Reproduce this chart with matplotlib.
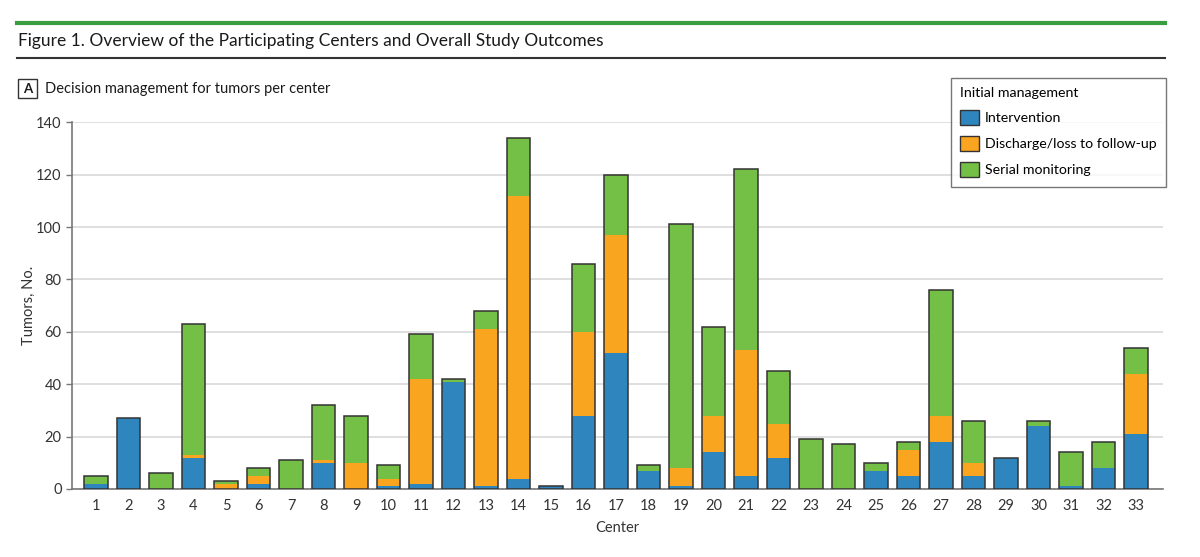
import numpy as np
import matplotlib
matplotlib.use("Agg")
import matplotlib.pyplot as plt
from matplotlib.patches import Patch, Rectangle
from matplotlib.lines import Line2D

# tumors per center, split by initial management
centers = list(range(1, 34))
intervention = [2, 27, 0, 12, 0, 2, 0, 10, 0, 1, 2, 41, 1, 4, 1, 28, 52, 7, 1, 14,
                5, 12, 0, 0, 7, 5, 18, 5, 12, 24, 1, 8, 21]
discharge = [0, 0, 0, 1, 2, 3, 0, 1, 10, 3, 40, 0, 60, 108, 0, 32, 45, 0, 7, 14,
             48, 13, 0, 0, 0, 10, 10, 5, 0, 0, 0, 0, 23]
serial = [3, 0, 6, 50, 1, 3, 11, 21, 18, 5, 17, 1, 7, 22, 0, 26, 23, 2, 93, 34,
          69, 20, 19, 17, 3, 3, 48, 16, 0, 2, 13, 10, 10]

series_names = ["Intervention", "Discharge/loss to follow-up", "Serial monitoring"]
colors = ["#2f86bf", "#f9a51f", "#74bf45"]
yticks = [0, 20, 40, 60, 80, 100, 120, 140]

plt.rcParams['font.family'] = ['Lato', 'DejaVu Sans']

W, H = 1200, 557
fig = plt.figure(figsize=(W / 100, H / 100), dpi=100)

def fx(px):
    return px / W

def fy(py):
    return 1 - py / H

# header rules and title
fig.add_artist(Line2D([fx(17), fx(1165)], [fy(22.5), fy(22.5)], color="#3a9d40", lw=3.0))
fig.add_artist(Line2D([fx(17), fx(1165)], [fy(58), fy(58)], color="#333333", lw=1.5))
fig.text(fx(18), fy(41), "Figure 1. Overview of the Participating Centers and Overall Study Outcomes",
         fontsize=12.5, va="center", ha="left", color="#1a1a1a")

# panel label
fig.add_artist(Rectangle((fx(18), fy(98)), fx(19), 19 / H, fill=False, ec="#333333", lw=1.0))
fig.text(fx(27.5), fy(88.5), "A", fontsize=9.5, weight="bold", ha="center", va="center", color="#1a1a1a")
fig.text(fx(45), fy(88.5), "Decision management for tumors per center", fontsize=10.5,
         ha="left", va="center", color="#1a1a1a")

ax = fig.add_axes([fx(72), fy(489), (1163 - 72) / W, (489 - 122.3) / H])

x = np.array(centers)
bottom = np.zeros(len(centers))
for vals, col, name in zip([intervention, discharge, serial], colors, series_names):
    vals = np.array(vals)
    ax.bar(x, vals, bottom=bottom, width=0.72, color=col, edgecolor="none", label=name, zorder=3)
    bottom += vals
# outline of each full stack
ax.bar(x, bottom, width=0.72, fill=False, edgecolor="#333333", linewidth=1.1, zorder=4)

ax.set_xlim(0.26, 33.83)
ax.set_ylim(0, 140)
ax.set_yticks(yticks)
ax.set_xticks(x)
ax.set_xticklabels([str(c) for c in centers])
ax.tick_params(axis="x", length=0, labelsize=10.5, pad=7, labelcolor="#333333")
ax.tick_params(axis="y", length=4, width=1, labelsize=10.5, direction="out",
               colors="#777777", labelcolor="#333333")
ax.grid(axis="y", color="#d9d9d9", lw=1.2, zorder=0)
for s in ["top", "right"]:
    ax.spines[s].set_visible(False)
for s in ["left", "bottom"]:
    ax.spines[s].set_color("#777777")
    ax.spines[s].set_linewidth(1.2)

ax.set_ylabel("Tumors, No.", fontsize=10.5, color="#333333", labelpad=0)
ax.set_xlabel("Center", fontsize=10.5, color="#333333", labelpad=6)

handles = [Patch(facecolor=c, edgecolor="#333333", lw=1.0) for c in colors]
leg = fig.legend(handles, series_names, title="Initial management", loc="upper right",
                 bbox_to_anchor=(fx(1166), fy(78)), bbox_transform=fig.transFigure,
                 borderaxespad=0, fontsize=10.2, title_fontsize=10.2, frameon=True,
                 fancybox=False, edgecolor="#555555", handlelength=1.3, handleheight=1.3,
                 handletextpad=0.45, labelspacing=0.75, borderpad=0.65)
leg._legend_box.align = "left"
leg.get_frame().set_linewidth(1.0)

fig.savefig("out.png", dpi=100)
